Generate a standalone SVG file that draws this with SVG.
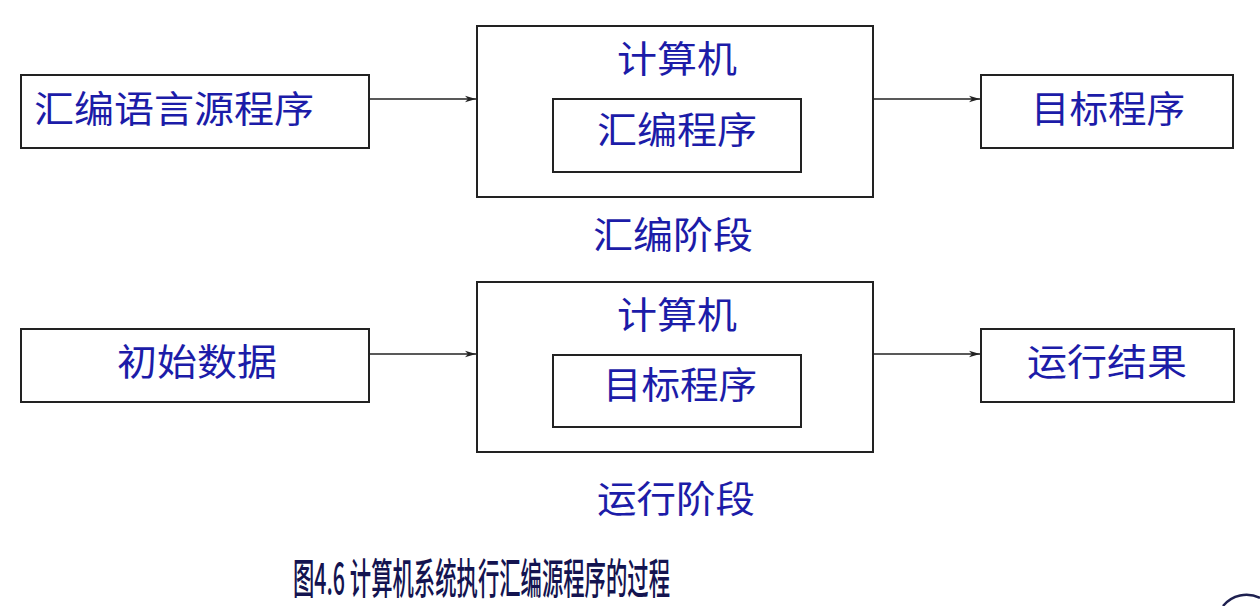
<svg xmlns="http://www.w3.org/2000/svg" width="1260" height="606" viewBox="0 0 1260 606">
  <style>
    .box { fill: #ffffff; stroke: #222222; stroke-width: 2; }
    .conn { stroke: #222222; stroke-width: 1.6; fill: none; }
    .lbl { font-family: "Noto Sans CJK SC", "Liberation Sans", sans-serif; font-size: 37px; fill: #1c1ca8; text-anchor: middle; dominant-baseline: central; }
    .cap { font-family: "Noto Sans CJK SC", "Liberation Serif", serif; font-size: 42px; fill: #141450; font-weight: 500; dominant-baseline: central; }
  </style>
  <defs>
    <marker id="arr" markerWidth="12" markerHeight="8" refX="11" refY="4" orient="auto" markerUnits="userSpaceOnUse">
      <path d="M0,0.8 L11,4 L0,7.2 L3,4 Z" fill="#222222"/>
    </marker>
  </defs>
  <rect width="1260" height="606" fill="#ffffff"/>

  <g id="src">
    <rect class="box" x="21" y="75" width="348" height="73"/>
    <text class="lbl" x="174" y="107" textLength="280" lengthAdjust="spacingAndGlyphs">汇编语言源程序</text>
  </g>
  <g id="computer1">
    <rect class="box" x="477" y="26" width="396" height="171"/>
    <text class="lbl" x="677" y="57" textLength="120" lengthAdjust="spacingAndGlyphs">计算机</text>
  </g>
  <g id="assembler">
    <rect class="box" x="553" y="99" width="248" height="73"/>
    <text class="lbl" x="677" y="128" textLength="160" lengthAdjust="spacingAndGlyphs">汇编程序</text>
  </g>
  <g id="target">
    <rect class="box" x="981" y="75" width="252" height="73"/>
    <text class="lbl" x="1108" y="107" textLength="154" lengthAdjust="spacingAndGlyphs">目标程序</text>
  </g>
  <g id="stage1">
    <text class="lbl" x="673" y="233" textLength="160" lengthAdjust="spacingAndGlyphs">汇编阶段</text>
  </g>

  <g id="data">
    <rect class="box" x="21" y="329" width="348" height="73"/>
    <text class="lbl" x="197" y="360" textLength="160" lengthAdjust="spacingAndGlyphs">初始数据</text>
  </g>
  <g id="computer2">
    <rect class="box" x="477" y="282" width="396" height="170"/>
    <text class="lbl" x="677" y="313" textLength="120" lengthAdjust="spacingAndGlyphs">计算机</text>
  </g>
  <g id="targetprog">
    <rect class="box" x="553" y="355" width="248" height="72"/>
    <text class="lbl" x="680" y="383" textLength="154" lengthAdjust="spacingAndGlyphs">目标程序</text>
  </g>
  <g id="result">
    <rect class="box" x="981" y="329" width="253" height="73"/>
    <text class="lbl" x="1107" y="360" textLength="160" lengthAdjust="spacingAndGlyphs">运行结果</text>
  </g>
  <g id="stage2">
    <text class="lbl" x="676" y="497" textLength="158" lengthAdjust="spacingAndGlyphs">运行阶段</text>
  </g>

  <g id="connectors">
    <line class="conn" x1="369" y1="99" x2="476" y2="99" marker-end="url(#arr)"/>
    <line class="conn" x1="873" y1="99" x2="980" y2="99" marker-end="url(#arr)"/>
    <line class="conn" x1="369" y1="354" x2="476" y2="354" marker-end="url(#arr)"/>
    <line class="conn" x1="873" y1="354" x2="980" y2="354" marker-end="url(#arr)"/>
  </g>

  <g id="caption">
    <text class="cap" x="293" y="575" textLength="377" lengthAdjust="spacingAndGlyphs">图4.6 计算机系统执行汇编源程序的过程</text>
  </g>
  <path d="M1223,606 A30,30 0 0 1 1260,598" fill="none" stroke="#1e2050" stroke-width="2.5"/>
</svg>
